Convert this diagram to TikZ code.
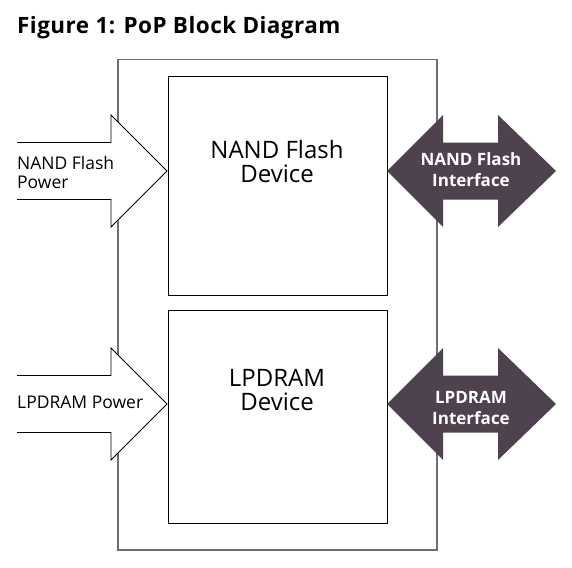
\documentclass[tikz,border=0pt]{standalone}
\usepackage{fontspec}
\setmainfont{Open Sans}
\usetikzlibrary{positioning}
\definecolor{ifacefill}{RGB}{77,66,77}
\definecolor{pkgline}{RGB}{110,110,110}

\begin{document}
\begin{tikzpicture}[x=1pt, y=-1pt,
  pkgbox/.style={draw=pkgline, line width=1.5pt, anchor=north west, inner sep=0pt},
  devbox/.style={draw=black, line width=1pt, fill=white, anchor=north west, inner sep=0pt,
    minimum width=218.5pt},
  devlabel/.style={font=\fontsize{24}{24}\selectfont, align=center, inner sep=0pt},
  powerarrow/.style={draw=black, line width=0.8pt, fill=white, line join=miter},
  powerlabel/.style={font=\fontsize{17.5}{19.5}\selectfont, align=left, inner sep=0pt, anchor=west},
  ifacearrow/.style={fill=ifacefill},
  ifacelabel/.style={font=\bfseries\fontsize{17}{21}\selectfont, text=white, align=center, inner sep=0pt}]

\useasboundingbox (0,0) rectangle (572,567);

\node[font=\bfseries\fontsize{22.5}{24}\selectfont\addfontfeature{LetterSpace=2}, anchor=base west, inner sep=0pt]
  (title) at (17,33.3) {Figure 1: PoP Block Diagram};

% package outline and the two dies
\node[pkgbox, minimum width=319pt, minimum height=490pt] (pkg) at (117,59) {};
\node[devbox, minimum height=218.5pt] (nand) at (168,76) {};
\node[devbox, minimum height=213pt] (dram) at (168,310) {};

\node[devlabel] (nandtxt) at (277,161.5) {NAND Flash\\Device};
\node[devlabel] (dramtxt) at (277,390.3) {LPDRAM\\Device};

% power in (left), interface out (right)
\foreach \yc in {171,404} {
  \draw[powerarrow] (17,\yc-28.5) -- (111,\yc-28.5) -- (111,\yc-56) -- (167,\yc)
    -- (111,\yc+56) -- (111,\yc+28.5) -- (17,\yc+28.5);
  \fill[ifacearrow] (387,\yc) -- (443,\yc-56) -- (443,\yc-28.5) -- (498,\yc-28.5)
    -- (498,\yc-56) -- (556,\yc) -- (498,\yc+56) -- (498,\yc+28.5)
    -- (443,\yc+28.5) -- (443,\yc+56) -- cycle;
}

\node[powerlabel] (nandpwr) at (17,172.3) {NAND Flash\\Power};
\node[powerlabel] (drampwr) at (17,402.2) {LPDRAM Power};

\node[ifacelabel] (nandif) at (471,169.7) {NAND Flash\\Interface};
\node[ifacelabel] (dramif) at (471,407.7) {LPDRAM\\Interface};

\end{tikzpicture}
\end{document}
